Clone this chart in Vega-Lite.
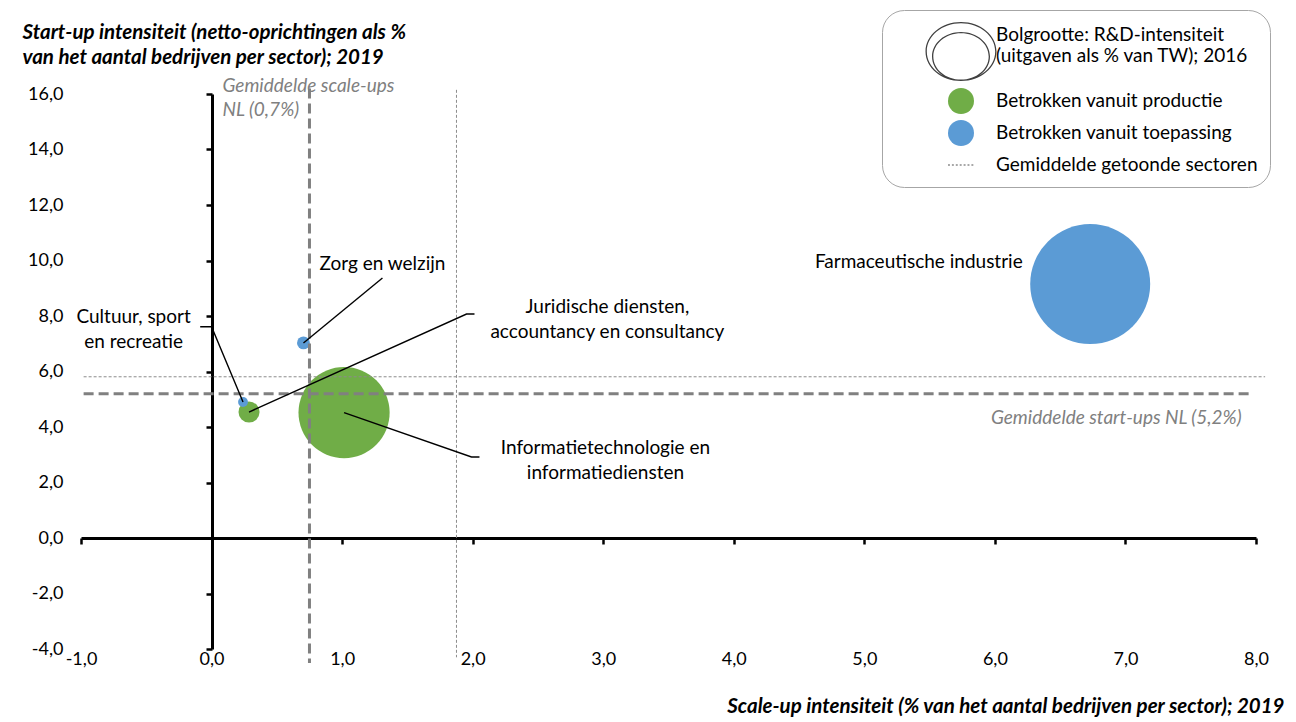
{
  "$schema": "https://vega.github.io/schema/vega-lite/v6.json",
  "width": 1175,
  "height": 555,
  "autosize": {"type": "none"},
  "padding": {"left": 81, "top": 94, "right": 40, "bottom": 73},
  "background": "white",
  "config": {
    "font": "Lato",
    "view": {"stroke": null},
    "axis": {
      "domainColor": "black", "domainWidth": 3, "tickColor": "black", "tickWidth": 2.5, "tickSize": 6,
      "labelFont": "Lato", "labelFontSize": 18, "labelColor": "black", "grid": false,
      "labelOverlap": false, "labelFlush": false,
      "titleFont": "Lato", "titleFontSize": 20.5, "titleFontStyle": "italic", "titleFontWeight": "bold", "titleColor": "black"
    }
  },
  "encoding": {
    "x": {
      "field": "x", "type": "quantitative",
      "scale": {"domain": [-1, 8], "nice": false, "zero": false},
      "axis": {
        "title": "Scale-up intensiteit (% van het aantal bedrijven per sector); 2019",
        "values": [-1, 0, 1, 2, 3, 4, 5, 6, 7, 8],
        "offset": -111, "labelPadding": 106,
        "labelExpr": "replace(replace(format(datum.value, '.1f'), '.', ','), '\u2212', '-')",
        "titleAlign": "right", "titleAnchor": "end", "titleX": 1203, "titleY": 168, "titleBaseline": "middle"
      }
    },
    "y": {
      "field": "y", "type": "quantitative",
      "scale": {"domain": [-4, 16], "nice": false, "zero": false},
      "axis": {
        "title": ["Start-up intensiteit (netto-oprichtingen als %", "van het aantal bedrijven per sector); 2019"],
        "values": [-4, -2, 0, 2, 4, 6, 8, 10, 12, 14, 16],
        "offset": -131, "labelPadding": 143,
        "labelExpr": "replace(replace(format(datum.value, '.1f'), '.', ','), '\u2212', '-')",
        "titleAngle": 0, "titleAlign": "left", "titleAnchor": "start", "titleBaseline": "alphabetic",
        "titleX": -190, "titleY": -56, "titleLineHeight": 25
      }
    }
  },
  "layer": [
    {
      "data": {"values": [
        {"sector": "Farmaceutische industrie", "groep": "Betrokken vanuit toepassing", "x": 6.73, "y": 9.15, "rd": 10.4},
        {"sector": "Informatietechnologie en informatiediensten", "groep": "Betrokken vanuit productie", "x": 1.015, "y": 4.52, "rd": 6.0},
        {"sector": "Juridische diensten, accountancy en consultancy", "groep": "Betrokken vanuit productie", "x": 0.287, "y": 4.54, "rd": 0.32},
        {"sector": "Zorg en welzijn", "groep": "Betrokken vanuit toepassing", "x": 0.704, "y": 7.03, "rd": 0.12},
        {"sector": "Cultuur, sport en recreatie", "groep": "Betrokken vanuit toepassing", "x": 0.241, "y": 4.9, "rd": 0.07}
      ]},
      "mark": {"type": "point", "filled": true, "opacity": 1},
      "encoding": {
        "size": {"field": "rd", "type": "quantitative", "scale": {"domain": [0, 10.4], "range": [0, 14400]}, "legend": null},
        "shape": {
          "field": "groep", "type": "nominal",
          "scale": {
            "domain": ["Bolgrootte: R&D-intensiteit (uitgaven als % van TW); 2016", "Betrokken vanuit productie", "Betrokken vanuit toepassing", "Gemiddelde getoonde sectoren"],
            "range": [
              "M-2.73,1.27A2.73,2.27,0,1,1,2.73,1.27A2.73,2.27,0,1,1,-2.73,1.27ZM-2.63,1.27A2.63,2.17,0,1,0,2.63,1.27A2.63,2.17,0,1,0,-2.63,1.27ZM-2.23,1.65A2.23,1.88,0,1,1,2.23,1.65A2.23,1.88,0,1,1,-2.23,1.65ZM-2.13,1.65A2.13,1.78,0,1,0,2.13,1.65A2.13,1.78,0,1,0,-2.13,1.65Z",
              "circle",
              "circle",
              "M-1,-0.05H-0.85V0.05H-1ZM-0.7,-0.05H-0.55V0.05H-0.7ZM-0.4,-0.05H-0.25V0.05H-0.4ZM-0.1,-0.05H0.05V0.05H-0.1ZM0.2,-0.05H0.35V0.05H0.2ZM0.5,-0.05H0.65V0.05H0.5ZM0.8,-0.05H0.95V0.05H0.8Z"
            ]
          },
          "legend": {
            "title": null,
            "orient": "none", "legendX": 801, "legendY": -84,
            "direction": "vertical", "columns": 1,
            "padding": 12, "strokeColor": "#a6a6a6", "cornerRadius": 22, "fillColor": "white",
            "symbolSize": 676, "symbolOffset": 54, "labelOffset": 22, "rowPadding": 6, "symbolStrokeWidth": 0,
            "labelFont": "Lato", "labelFontSize": 19, "labelColor": "black", "labelLimit": 400,
            "labelExpr": "indexof(datum.label, 'Bolgrootte') === 0 ? ['\u00a0\u00a0\u00a0Bolgrootte: R&D-intensiteit', '\u00a0\u00a0\u00a0(uitgaven als % van TW); 2016'] : datum.label"
          }
        },
        "color": {
          "field": "groep", "type": "nominal",
          "scale": {
            "domain": ["Bolgrootte: R&D-intensiteit (uitgaven als % van TW); 2016", "Betrokken vanuit productie", "Betrokken vanuit toepassing", "Gemiddelde getoonde sectoren"],
            "range": ["#404040", "#70AD47", "#5B9BD5", "#8c8c8c"]
          },
          "legend": {
            "title": null,
            "orient": "none", "legendX": 801, "legendY": -84,
            "direction": "vertical", "columns": 1,
            "padding": 12, "strokeColor": "#a6a6a6", "cornerRadius": 22, "fillColor": "white",
            "symbolSize": 676, "symbolOffset": 54, "labelOffset": 22, "rowPadding": 6, "symbolStrokeWidth": 0,
            "labelFont": "Lato", "labelFontSize": 19, "labelColor": "black", "labelLimit": 400,
            "labelExpr": "indexof(datum.label, 'Bolgrootte') === 0 ? ['\u00a0\u00a0\u00a0Bolgrootte: R&D-intensiteit', '\u00a0\u00a0\u00a0(uitgaven als % van TW); 2016'] : datum.label"
          }
        }
      }
    },
    {
      "data": {"values": [
        {"lijn": "Gemiddelde scale-ups NL", "x": 0.75, "x2": 0.75, "y": 16.2, "y2": -4.5},
        {"lijn": "Gemiddelde start-ups NL", "x": -0.98, "x2": 7.98, "y": 5.2, "y2": 5.2}
      ]},
      "mark": {"type": "rule", "color": "#808080", "strokeWidth": 3, "strokeDash": [10, 5]},
      "encoding": {"x2": {"field": "x2"}, "y2": {"field": "y2"}}
    },
    {
      "data": {"values": [
        {"lijn": "Gemiddelde getoonde sectoren (scale-ups)", "x": 1.876, "x2": 1.876, "y": 16.15, "y2": -4.3},
        {"lijn": "Gemiddelde getoonde sectoren (start-ups)", "x": -0.98, "x2": 8.07, "y": 5.81, "y2": 5.81}
      ]},
      "mark": {"type": "rule", "color": "#8c8c8c", "strokeWidth": 1, "strokeDash": [3, 2]},
      "encoding": {"x2": {"field": "x2"}, "y2": {"field": "y2"}}
    },
    {
      "data": {"values": [
        {"id": "zorg", "volg": 1, "x": 1.309, "y": 9.37},
        {"id": "zorg", "volg": 2, "x": 0.704, "y": 7.03},
        {"id": "cultuur", "volg": 1, "x": -0.087, "y": 7.61},
        {"id": "cultuur", "volg": 2, "x": 0.0, "y": 7.61},
        {"id": "cultuur", "volg": 3, "x": 0.241, "y": 4.9},
        {"id": "juridisch", "volg": 1, "x": 2.014, "y": 8.07},
        {"id": "juridisch", "volg": 2, "x": 1.953, "y": 8.07},
        {"id": "juridisch", "volg": 3, "x": 0.287, "y": 4.54},
        {"id": "it", "volg": 1, "x": 1.015, "y": 4.52},
        {"id": "it", "volg": 2, "x": 1.991, "y": 2.92},
        {"id": "it", "volg": 3, "x": 2.052, "y": 2.92}
      ]},
      "mark": {"type": "line", "color": "black", "strokeWidth": 1.4},
      "encoding": {"detail": {"field": "id"}, "order": {"field": "volg", "type": "quantitative"}}
    },
    {
      "data": {"values": [
        {"tekst": "Zorg en welzijn", "x": 1.309, "y": 9.87},
        {"tekst": "Cultuur, sport\nen recreatie", "x": -0.597, "y": 7.96},
        {"tekst": "Juridische diensten,\naccountancy en consultancy", "x": 3.032, "y": 8.32},
        {"tekst": "Informatietechnologie en\ninformatiediensten", "x": 3.017, "y": 3.24},
        {"tekst": "Farmaceutische industrie", "x": 5.417, "y": 9.95}
      ]},
      "mark": {"type": "text", "lineBreak": "\n", "lineHeight": 25, "fontSize": 19, "font": "Lato", "align": "center", "baseline": "middle", "color": "black"},
      "encoding": {"text": {"field": "tekst"}}
    },
    {
      "data": {"values": [{"tekst": "Gemiddelde scale-ups\nNL (0,7%)", "x": 0.084, "y": 16.29}]},
      "mark": {"type": "text", "lineBreak": "\n", "lineHeight": 24, "fontSize": 19, "font": "Lato", "fontStyle": "italic", "align": "left", "baseline": "middle", "color": "#808080"},
      "encoding": {"text": {"field": "tekst"}}
    },
    {
      "data": {"values": [{"tekst": "Gemiddelde start-ups NL (5,2%)", "x": 7.89, "y": 4.32}]},
      "mark": {"type": "text", "fontSize": 19, "font": "Lato", "fontStyle": "italic", "align": "right", "baseline": "middle", "color": "#808080"},
      "encoding": {"text": {"field": "tekst"}}
    }
  ]
}
